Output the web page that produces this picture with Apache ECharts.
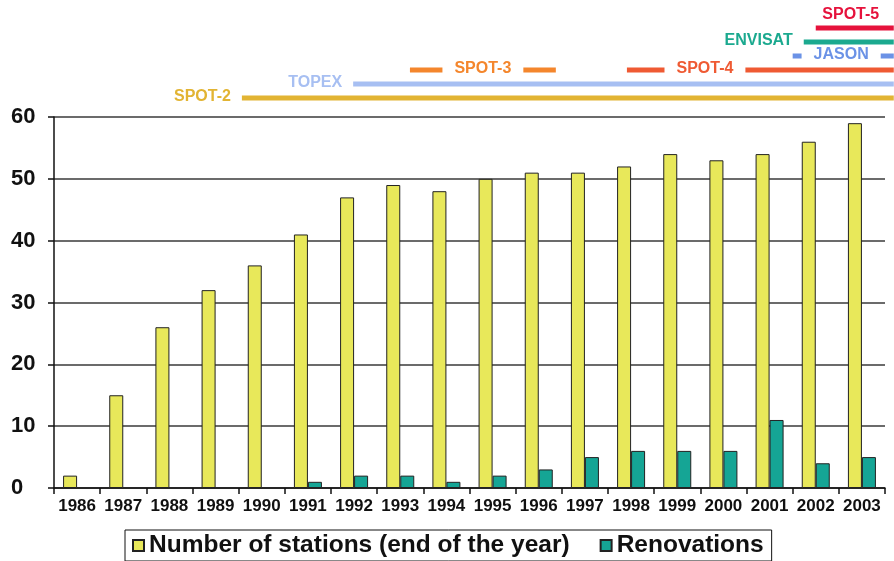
<!DOCTYPE html>
<html>
<head>
<meta charset="utf-8">
<script src="https://cdn.jsdelivr.net/npm/echarts@6/dist/echarts.min.js"></script>
<style>
  html, body { margin: 0; padding: 0; background: #fff; }
  #chart { width: 894px; height: 561px; }
</style>
</head>
<body>
<div id="chart"></div>
<script>
// years on the x axis
const years = ['1986', '1987', '1988', '1989', '1990', '1991', '1992', '1993', '1994',
  '1995', '1996', '1997', '1998', '1999', '2000', '2001', '2002', '2003'];
// number of stations at the end of each year
const stations = [2, 15, 26, 32, 36, 41, 47, 49, 48, 50, 51, 51, 52, 54, 53, 54, 56, 59];
// renovations per year (none before 1991)
const renovations = [null, null, null, null, null, 1, 2, 2, 1, 2, 3, 5, 6, 6, 6, 11, 4, 5];

// satellite missions: name, start (year), end (year), row above the plot
const missionNames = ['SPOT-2', 'TOPEX', 'SPOT-3', 'SPOT-4', 'JASON', 'ENVISAT', 'SPOT-5'];
const missionStart = [1990.07, 1992.48, 1993.71, 1998.41, 2002.0, 2002.24, 2002.5];
const missionEnd = [2004.19, 2004.19, 1996.87, 2004.19, 2004.19, 2004.19, 2004.19];
const missionRow = [0, 1, 2, 2, 3, 4, 5];
// where the name goes: 'left' of the line, 'inline' (cut into the line) or 'above'
const missionLabelMode = ['left', 'left', 'inline', 'inline', 'inline', 'left', 'above'];
const missionLabelYear = [null, null, 1995.29, 2000.1, 2003.05, null, null];
const missionColors = ['#E2B433', '#A7BFF2', '#F4862C', '#EF5A33', '#6B92E6', '#1BA98F', '#E6123C'];

const labelFont = 'bold 16px "Liberation Sans", Arial, sans-serif';

const chart = echarts.init(document.getElementById('chart'));

const missionData = missionNames.map((n, i) => [missionStart[i], missionEnd[i], missionRow[i]]);

const renderMission = (params, api) => {
    const i = params.dataIndex;
    const p1 = api.coord([api.value(0), api.value(2)]);
    const p2 = api.coord([api.value(1), api.value(2)]);
    const color = missionColors[i];
    const children = [{
        type: 'rect',
        shape: { x: p1[0], y: p1[1] - 2.5, width: p2[0] - p1[0], height: 5 },
        style: { fill: color }
    }];
    const mode = missionLabelMode[i];
    let text = { text: missionNames[i], fill: color, font: labelFont, verticalAlign: 'middle' };
    if (mode === 'left') {
        text.x = p1[0] - 11;
        text.y = p1[1] - 1;
        text.align = 'right';
    } else if (mode === 'inline') {
        const c = api.coord([missionLabelYear[i], api.value(2)]);
        text.x = c[0];
        text.y = p1[1] - 1;
        text.align = 'center';
        text.backgroundColor = '#fff';
        text.padding = [2, 12, 2, 12];
    } else {
        text.x = (p1[0] + p2[0]) / 2 - 4;
        text.y = p1[1] - 13;
        text.align = 'center';
    }
    children.push({ type: 'text', style: text, z2: 10 });
    return { type: 'group', children: children };
};

const option = {
    backgroundColor: '#fff',
    animation: false,
    textStyle: { fontFamily: '"Liberation Sans", Arial, sans-serif' },
    grid: [
        { left: 54, right: 9, top: 117, bottom: 73 },
        { left: 54, right: 9, top: 28, height: 70 }
    ],
    legend: {
        left: 125,
        top: 530,
        data: ['Number of stations (end of the year)', 'Renovations'],
        itemWidth: 11,
        itemHeight: 11,
        itemGap: 30,
        icon: 'rect',
        padding: [3, 8, 3, 7],
        borderColor: '#111',
        borderWidth: 1,
        backgroundColor: '#fff',
        textStyle: {
            fontSize: 24.5,
            fontWeight: 'bold',
            color: '#111',
            lineHeight: 24
        }
    },
    xAxis: [
        {
            type: 'category',
            gridIndex: 0,
            data: years,
            axisLine: { lineStyle: { color: '#111', width: 1.5 } },
            axisTick: { show: true, length: 6, lineStyle: { color: '#111', width: 1.5 } },
            axisLabel: {
                color: '#111',
                fontSize: 17,
                fontWeight: 'bold',
                margin: 10,
                interval: 0
            }
        },
        {
            type: 'value',
            gridIndex: 1,
            min: 1986,
            max: 2004,
            show: false
        }
    ],
    yAxis: [
        {
            type: 'value',
            gridIndex: 0,
            min: 0,
            max: 60,
            interval: 10,
            axisLine: { show: true, lineStyle: { color: '#111', width: 1.5 } },
            axisTick: { show: true, length: 6, lineStyle: { color: '#111', width: 1.5 } },
            axisLabel: {
                color: '#111',
                fontSize: 22,
                fontWeight: 'bold',
                align: 'left',
                margin: 43
            },
            splitLine: { lineStyle: { color: '#3a3a3a', width: 1.5 } }
        },
        {
            type: 'value',
            gridIndex: 1,
            min: 0,
            max: 5,
            show: false
        }
    ],
    series: [
        {
            name: 'Number of stations (end of the year)',
            type: 'bar',
            xAxisIndex: 0,
            yAxisIndex: 0,
            data: stations,
            barWidth: 14,
            barGap: '0%',
            itemStyle: { color: '#E8E85A', borderColor: '#222', borderWidth: 1 }
        },
        {
            name: 'Renovations',
            type: 'bar',
            xAxisIndex: 0,
            yAxisIndex: 0,
            data: renovations,
            barWidth: 14,
            barGap: '0%',
            itemStyle: { color: '#15A595', borderColor: '#222', borderWidth: 1 }
        },
        {
            name: 'missions',
            type: 'custom',
            xAxisIndex: 1,
            yAxisIndex: 1,
            data: missionData,
            renderItem: renderMission,
            clip: false,
            silent: true
        }
    ]
};

chart.setOption(option);
</script>
</body>
</html>
